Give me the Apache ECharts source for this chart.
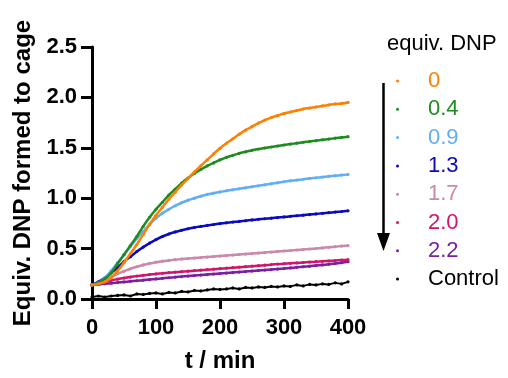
<!DOCTYPE html>
<html>
<head>
<meta charset="utf-8">
<script src="https://cdn.jsdelivr.net/npm/echarts@6/dist/echarts.min.js"></script>
<style>html,body{margin:0;padding:0;background:#fff}#c{width:508px;height:378px}</style>
</head>
<body>
<div id="c"></div>
<script>
const times = [0,10,20,30,40,50,60,70,80,90,100,110,120,130,140,150,160,170,180,190,200,210,220,230,240,250,260,270,280,290,300,310,320,330,340,350,360,370,380,390,400];
const names = ['0','0.4','0.9','1.3','1.7','2.0','2.2','Control'];
const colors = ['#FF8000','#1E8B1E','#62AEF5','#0A0ABF','#CC88AA','#D0156A','#7A1FA0','#000000'];
const yTicks = [0,0.5,1.0,1.5,2.0,2.5];
const xTicks = [0,100,200,300,400];

const v0   = [0.14,0.15,0.17,0.21,0.28,0.36,0.45,0.54,0.64,0.74,0.83,0.91,0.99,1.06,1.13,1.195,1.26,1.32,1.38,1.44,1.495,1.545,1.59,1.635,1.675,1.71,1.745,1.775,1.80,1.82,1.84,1.855,1.87,1.885,1.895,1.905,1.915,1.925,1.935,1.94,1.95];
const v04  = [0.14,0.16,0.20,0.26,0.35,0.44,0.53,0.62,0.72,0.81,0.89,0.96,1.03,1.09,1.15,1.20,1.245,1.285,1.32,1.35,1.38,1.405,1.425,1.445,1.46,1.475,1.487,1.498,1.508,1.518,1.528,1.537,1.546,1.555,1.563,1.571,1.579,1.587,1.595,1.603,1.61];
const v09  = [0.14,0.16,0.21,0.28,0.36,0.44,0.52,0.60,0.67,0.74,0.80,0.85,0.89,0.925,0.955,0.98,1.00,1.02,1.037,1.05,1.062,1.073,1.083,1.093,1.103,1.113,1.123,1.133,1.143,1.153,1.163,1.172,1.18,1.188,1.196,1.203,1.21,1.217,1.223,1.229,1.235];
const v13  = [0.14,0.17,0.21,0.26,0.31,0.37,0.42,0.47,0.515,0.555,0.59,0.62,0.645,0.665,0.682,0.697,0.71,0.72,0.73,0.739,0.748,0.756,0.763,0.77,0.777,0.784,0.79,0.796,0.802,0.808,0.814,0.82,0.826,0.832,0.838,0.844,0.85,0.856,0.862,0.868,0.875];
const v17  = [0.14,0.16,0.19,0.22,0.25,0.275,0.30,0.32,0.338,0.353,0.365,0.375,0.383,0.39,0.396,0.401,0.406,0.411,0.416,0.421,0.426,0.431,0.436,0.441,0.446,0.451,0.456,0.461,0.466,0.471,0.476,0.481,0.486,0.491,0.496,0.501,0.507,0.513,0.519,0.525,0.53];
const v20  = [0.14,0.155,0.17,0.185,0.197,0.208,0.218,0.227,0.235,0.242,0.249,0.255,0.261,0.266,0.271,0.276,0.281,0.286,0.291,0.296,0.301,0.306,0.311,0.316,0.321,0.326,0.331,0.336,0.341,0.346,0.35,0.354,0.358,0.362,0.366,0.37,0.374,0.378,0.382,0.386,0.39];
const v22  = [0.14,0.145,0.151,0.157,0.163,0.169,0.175,0.181,0.187,0.193,0.199,0.205,0.211,0.217,0.222,0.227,0.232,0.237,0.242,0.247,0.252,0.257,0.262,0.267,0.272,0.277,0.282,0.287,0.292,0.297,0.302,0.308,0.314,0.32,0.326,0.332,0.338,0.344,0.352,0.36,0.37];
const vCtl = [0.02,0.03,0.02,0.03,0.035,0.04,0.03,0.05,0.045,0.055,0.06,0.05,0.065,0.06,0.075,0.07,0.085,0.08,0.09,0.10,0.095,0.10,0.11,0.10,0.115,0.11,0.12,0.115,0.125,0.12,0.13,0.125,0.14,0.13,0.145,0.14,0.15,0.145,0.16,0.15,0.17];
const values = [v0, v04, v09, v13, v17, v20, v22, vCtl];

const FF = '"Liberation Sans", Arial, Helvetica, sans-serif';
const chart = echarts.init(document.getElementById('c'), null, {renderer:'canvas'});

const series = [];
for (let i = values.length - 1; i >= 0; i--) {
  const ctl = names[i] === 'Control';
  series.push({
    name: names[i],
    type: 'line',
    smooth: ctl ? false : 0.35,
    data: times.map((t, k) => [t, values[i][k]]),
    symbol: 'circle',
    symbolSize: 3.2,
    showAllSymbol: true,
    lineStyle: {color: colors[i], width: ctl ? 2 : 2.5},
    itemStyle: {color: colors[i]},
    z: 2 + (values.length - i)
  });
}

const option = {
  animation: false,
  backgroundColor: '#fff',
  grid: {left: 92, right: 160, top: 47, bottom: 75.5},
  xAxis: {
    type: 'value', min: xTicks[0], max: xTicks[xTicks.length-1], interval: 100,
    axisLine: {show: true, onZero: false, lineStyle: {color: '#000', width: 3}},
    axisTick: {show: true, length: 10, lineStyle: {color: '#000', width: 3}},
    axisLabel: {color: '#000', fontSize: 22, fontWeight: 'bold', fontFamily: FF, margin: 18},
    splitLine: {show: false},
    name: 't / min', nameLocation: 'middle', nameGap: 50,
    nameTextStyle: {color: '#000', fontSize: 24, fontWeight: 'bold', fontFamily: FF}
  },
  yAxis: {
    type: 'value', min: yTicks[0], max: yTicks[yTicks.length-1], interval: 0.5,
    axisLine: {show: true, onZero: false, lineStyle: {color: '#000', width: 3}},
    axisTick: {show: true, length: 11, lineStyle: {color: '#000', width: 3}},
    axisLabel: {color: '#000', fontSize: 22, fontWeight: 'bold', fontFamily: FF, margin: 15,
      formatter: v => v.toFixed(1)},
    splitLine: {show: false},
    name: 'Equiv. DNP formed to cage', nameLocation: 'middle', nameGap: 55, nameRotate: 90,
    nameTextStyle: {color: '#000', fontSize: 24, fontWeight: 'bold', fontFamily: FF}
  },
  legend: {
    orient: 'vertical', left: 396, top: 70, padding: 0, itemGap: 6.3,
    itemWidth: 3, itemHeight: 3, icon: 'circle',
    textStyle: {fontSize: 22, fontFamily: FF, lineHeight: 22, padding: [0,0,0,24]},
    data: names.map((n, i) => ({name: n, textStyle: {color: colors[i]}}))
  },
  graphic: [
    {type: 'text', left: 387, top: 33, style: {text: 'equiv. DNP', fill: '#000', font: '22px ' + FF}},
    {type: 'line', shape: {x1: 383.5, y1: 83, x2: 383.5, y2: 236}, style: {stroke: '#000', lineWidth: 2.5}},
    {type: 'polygon', shape: {points: [[377, 233], [390, 233], [383.5, 251]]}, style: {fill: '#000'}}
  ],
  series: series
};
chart.setOption(option);
</script>
</body>
</html>
